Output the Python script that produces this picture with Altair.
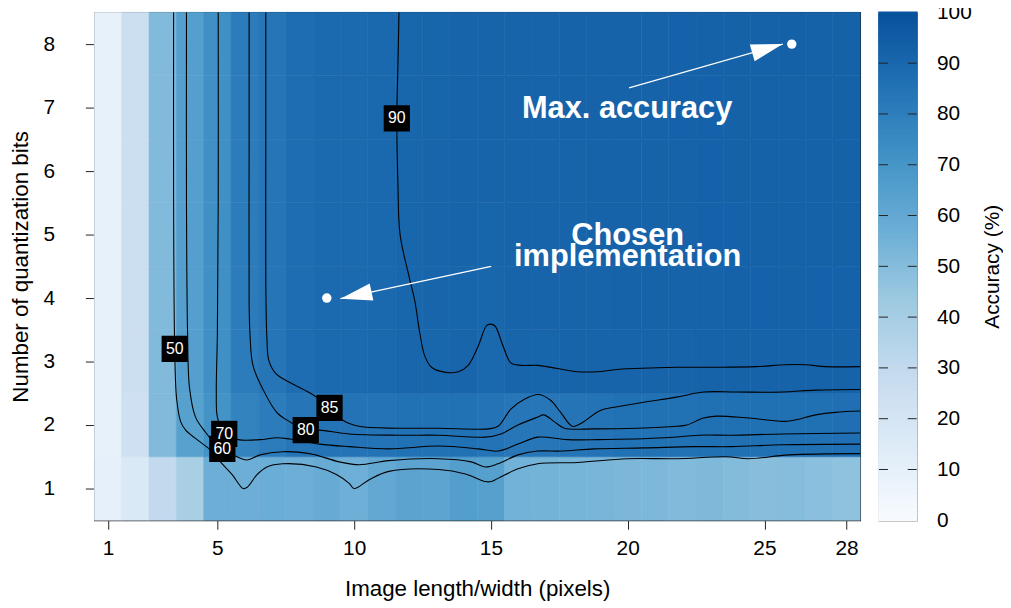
import altair as alt
import pandas as pd

FONT = "Liberation Sans"

# ---------------- heat-map values (accuracy %) ----------------
img_size = list(range(1, 29))          # image length/width (pixels)
q_bits = list(range(1, 9))             # number of quantization bits

acc_b1 = [9.5, 16.5, 30, 39, 57, 57, 57.5, 57, 58.5, 56.5, 60, 62.5, 62, 65.5, 64.5, 55,
          54.5, 54, 53.5, 52.5, 52, 51, 51.5, 50.5, 49, 49.5, 48.5, 47]
acc_b2 = [9, 24, 51, 64, 71, 78, 81, 84, 85, 85, 85, 85.5, 85.5, 85.5, 85, 83.5,
          83, 84.5, 85, 85.5, 85.5, 85.5, 86, 86, 86, 86, 86, 86.5]
acc_b3 = [9, 25, 51, 65, 72.5, 81, 84, 87.5, 89, 89.3, 89.6, 90.5, 90.8, 91.0, 89.9, 91.1,
          91.2, 91.3, 91.4, 91.5, 91.7, 91.7, 91.8, 91.9, 91.9, 92.0, 91.9, 91.9]
acc_b4 = [9, 25, 51, 65, 72.5, 81, 84, 87.5, 89, 89.3, 89.6, 90.6, 91, 91.2, 90.6, 91.4,
          91.5, 91.6, 91.7, 91.8, 92, 92, 92.1, 92.2, 92.2, 92.3, 92.2, 92.2]
acc_b5 = [9, 25, 51, 65, 72.5, 81, 84, 87.5, 89, 89.3, 89.7, 90.7, 91.1, 91.3, 91.2, 91.5,
          91.6, 91.7, 91.8, 91.9, 92, 92.1, 92.2, 92.2, 92.3, 92.4, 92.3, 92.3]
acc_b6 = [9, 25, 51, 65, 72.5, 81, 84, 87.5, 89, 89.3, 89.7, 90.7, 91.1, 91.3, 91.3, 91.5,
          91.6, 91.7, 91.8, 91.9, 92.1, 92.1, 92.2, 92.3, 92.3, 92.5, 92.3, 92.3]
acc_b7 = [9, 25, 51, 65, 72.5, 81, 84, 87.5, 89, 89.4, 89.7, 90.8, 91.2, 91.3, 91.3, 91.5,
          91.6, 91.8, 91.8, 92, 92.1, 92.2, 92.2, 92.3, 92.4, 92.6, 92.4, 92.3]
acc_b8 = [9, 25, 51, 65, 72.5, 81, 84, 87.5, 89, 89.4, 89.7, 90.8, 91.2, 91.4, 91.4, 91.6,
          91.7, 91.8, 91.9, 92, 92.1, 92.2, 92.3, 92.4, 92.5, 93, 92.4, 92.4]
acc_rows = [acc_b1, acc_b2, acc_b3, acc_b4, acc_b5, acc_b6, acc_b7, acc_b8]

# ---------------- contour lines (data units) ----------------
c50_x = [3.40, 3.40, 3.44, 3.51, 3.66, 3.84, 4.38, 4.74, 5.11, 5.54, 5.94, 6.09, 6.45, 6.81,
         7.39, 8.62, 9.35, 9.82, 10.00, 10.55, 11.27, 13.09, 14.07, 14.79, 15.01, 15.26, 15.99,
         16.71, 18.16, 19.98, 21.79, 23.60, 24.44, 25.89, 28.50]
c50_y = [8.5, 5.48, 3.20, 2.41, 2.05, 1.92, 1.73, 1.61, 1.42, 1.22, 1.0, 1.02, 1.22, 1.34,
         1.39, 1.34, 1.22, 1.08, 1.0, 1.14, 1.27, 1.30, 1.23, 1.11, 1.11, 1.16, 1.31,
         1.39, 1.41, 1.47, 1.47, 1.5, 1.47, 1.53, 1.55]
c60_x = [3.87, 3.87, 3.91, 3.98, 4.20, 4.56, 4.93, 5.18, 5.72, 6.09, 6.56, 7.39, 8.37, 9.46,
         10.18, 11.27, 13.09, 14.28, 14.79, 15.26, 15.99, 16.71, 17.55, 18.78, 20.59, 22.41,
         23.80, 25.67, 28.50]
c60_y = [8.5, 5.48, 3.45, 2.59, 2.125, 1.89, 1.70, 1.625, 1.5, 1.45, 1.53, 1.58, 1.55, 1.42,
         1.375, 1.44, 1.47, 1.42, 1.34, 1.39, 1.53, 1.59, 1.59, 1.625, 1.64, 1.66,
         1.66, 1.69, 1.70]
c70_x = [5.03, 5.03, 5.00, 4.96, 5.00, 5.25, 5.76, 6.56, 7.17, 7.65, 8.73, 9.82, 11.27, 13.09,
         14.54, 15.26, 15.99, 16.71, 17.80, 18.89, 21.37, 22.60, 23.80, 25.67, 28.50]
c70_y = [8.5, 5.48, 3.45, 2.52, 2.125, 1.86, 1.77, 1.77, 1.80, 1.78, 1.70, 1.66, 1.625, 1.67,
         1.625, 1.59, 1.70, 1.81, 1.77, 1.77, 1.80, 1.84, 1.84, 1.86, 1.875]
c80_x = [6.16, 6.16, 6.16, 6.19, 6.30, 6.67, 7.17, 7.65, 8.23, 8.73, 9.82, 11.64, 13.09, 14.79,
         15.37, 15.99, 16.71, 16.93, 17.33, 17.69, 18.78, 20.34, 21.79, 22.16, 22.77, 23.24,
         24.44, 25.84, 26.87, 27.59, 28.50]
c80_y = [8.5, 6.27, 3.92, 3.45, 2.94, 2.56, 2.20, 2.05, 1.92, 1.92, 1.86, 1.84, 1.84, 1.81,
         1.86, 2.0, 2.125, 2.16, 2.05, 1.95, 1.94, 1.95, 1.98, 2.0, 2.11, 2.14,
         2.11, 2.06, 2.16, 2.20, 2.22]
c85_x = [6.77, 6.77, 6.77, 6.81, 6.88, 7.14, 7.65, 8.19, 8.62, 9.10, 9.57, 10.18, 11.64, 13.09,
         14.90, 15.26, 15.73, 16.24, 16.75, 17.18, 17.55, 17.98, 18.27, 19.00, 19.51, 20.59,
         21.79, 22.77, 23.97, 25.67, 26.87, 28.50]
c85_y = [8.5, 6.27, 4.23, 3.375, 3.02, 2.81, 2.67, 2.55, 2.44, 2.27, 2.08, 1.98, 1.95, 1.95,
         1.94, 1.98, 2.25, 2.41, 2.48, 2.39, 2.20, 1.98, 2.02, 2.23, 2.28, 2.36,
         2.44, 2.52, 2.52, 2.52, 2.55, 2.56]
c90_x = [11.64, 11.60, 11.56, 11.60, 11.68, 12.03, 12.22, 12.40, 12.58, 12.83, 13.34,
         13.81, 14.17, 14.54, 14.83, 14.97, 15.15, 15.44, 15.73, 16.10, 16.71, 17.44, 18.16,
         18.89, 19.61, 21.79, 23.24, 24.69, 25.78, 26.51, 27.23, 28.50]
c90_y = [8.5, 7.67, 6.83, 5.80, 5.00, 4.30, 3.95, 3.45, 3.09, 2.91, 2.83, 2.84, 2.94,
         3.25, 3.56, 3.59, 3.56, 3.25, 2.98, 2.94, 2.94, 2.89, 2.84, 2.84, 2.875, 2.91,
         2.91, 2.92, 2.95, 2.95, 2.92, 2.92]

# contour labels
lab_text = ["90", "50", "85", "80", "70", "60"]
lab_x = [11.56, 3.44, 9.10, 8.23, 5.25, 5.18]
lab_y = [6.83, 3.20, 2.27, 1.92, 1.86, 1.625]

# annotations
ann_text = ["Max. accuracy", "Chosen", "implementation"]
ann_x = [19.98, 20.0, 20.0]
ann_y = [6.98, 4.98, 4.64]
dot_x = [26, 9]
dot_y = [8, 4]
arrow_x0 = [20.05, 15.01]
arrow_y0 = [7.31, 4.50]
arrow_x1 = [25.67, 9.50]
arrow_y1 = [8.00, 3.99]
arrow_angle = [344.1, 167.9]

# colour bar
cb_ticks = [10, 20, 30, 40, 50, 60, 70, 80, 90]
cb_labels = [0, 10, 20, 30, 40, 50, 60, 70, 80, 90, 100]

x_ticks = [1, 5, 10, 15, 20, 25, 28]
X_TITLE = "Image length/width (pixels)"
Y_TITLE = "Number of quantization bits"

# ---------------- tables ----------------
cells = pd.DataFrame(
    [{"px": s, "bits": b, "acc": v} for b, row in zip(q_bits, acc_rows) for s, v in zip(img_size, row)]
)
cont_rows = []
for lev, (cx, cy) in {"50": (c50_x, c50_y), "60": (c60_x, c60_y), "70": (c70_x, c70_y),
                      "80": (c80_x, c80_y), "85": (c85_x, c85_y), "90": (c90_x, c90_y)}.items():
    for i, (a, b) in enumerate(zip(cx, cy)):
        cont_rows.append({"level": lev, "i": i, "cx": a, "cy": b})
cont = pd.DataFrame(cont_rows)
labels = pd.DataFrame({"t": lab_text, "lx": lab_x, "ly": lab_y})
ann = pd.DataFrame({"t": ann_text, "ax": ann_x, "ay": ann_y})
dots = pd.DataFrame({"dx": dot_x, "dy": dot_y})
arr_rows = []
for k in range(2):
    arr_rows.append({"a": k, "i": 0, "ax": arrow_x0[k], "ay": arrow_y0[k]})
    arr_rows.append({"a": k, "i": 1, "ax": arrow_x1[k], "ay": arrow_y1[k]})
arrows = pd.DataFrame(arr_rows)
heads = pd.DataFrame({"hx": arrow_x1, "hy": arrow_y1, "ang": arrow_angle})

# ---------------- scales ----------------
csc = alt.Scale(domain=[0, 14.29, 28.57, 42.86, 57.14, 71.43, 85.71, 100],
                range=["#F7FBFF", "#DEEBF7", "#C6DBEF", "#9ECAE1", "#6BAED6", "#4292C6", "#2171B5", "#08519C"],
                interpolate="rgb")
xsc = alt.Scale(domain=[0.5, 28.5], nice=False, zero=False)
ysc = alt.Scale(domain=[0.5, 8.5], nice=False, zero=False)

x_axis = alt.Axis(values=x_ticks, title=X_TITLE, tickSize=9, labelPadding=8, titlePadding=20,
                  labelFontSize=21, titleFontSize=22.5)
y_axis = alt.Axis(values=q_bits, title=Y_TITLE, tickSize=9, labelPadding=31, titlePadding=11,
                  labelFontSize=21, titleFontSize=22.5)


def X(f):
    return alt.X(f, scale=xsc, axis=x_axis)


def Y(f):
    return alt.Y(f, scale=ysc, axis=y_axis)


heat = alt.Chart(cells).transform_calculate(
    x0="datum.px - 0.5", x1="datum.px + 0.5", y0="datum.bits - 0.5", y1="datum.bits + 0.5"
).mark_rect(strokeWidth=0.6).encode(
    x=X("x0:Q"), x2="x1:Q", y=Y("y0:Q"), y2="y1:Q",
    color=alt.Color("acc:Q", scale=csc, legend=None),
    stroke=alt.Stroke("acc:Q", scale=csc, legend=None),
)

lines = alt.Chart(cont).mark_line(color="black", strokeWidth=1.1, interpolate="catmull-rom", clip=True).encode(
    x=X("cx:Q"), y=Y("cy:Q"), detail="level:N", order="i:Q"
)

boxes = alt.Chart(labels).mark_point(shape="square", filled=True, color="black", opacity=1, size=700).encode(
    x=X("lx:Q"), y=Y("ly:Q")
)
box_txt = alt.Chart(labels).mark_text(color="white", fontSize=16, font=FONT, baseline="middle").encode(
    x=X("lx:Q"), y=Y("ly:Q"), text="t:N"
)

arrow_lines = alt.Chart(arrows).mark_line(color="white", strokeWidth=1.3).encode(
    x=X("ax:Q"), y=Y("ay:Q"), detail="a:N", order="i:Q"
)
arrow_heads = alt.Chart(heads).mark_point(
    shape="M0,0L-2,-0.55L-2,0.55Z", filled=True, color="white", opacity=1, size=1024
).encode(x=X("hx:Q"), y=Y("hy:Q"), angle=alt.Angle("ang:Q", scale=None))

dot_marks = alt.Chart(dots).mark_circle(color="white", opacity=1, size=90).encode(x=X("dx:Q"), y=Y("dy:Q"))

ann_marks = alt.Chart(ann).mark_text(color="white", fontSize=31, fontWeight="bold", font=FONT,
                                     baseline="middle").encode(x=X("ax:Q"), y=Y("ay:Q"), text="t:N")

main = alt.layer(heat, lines, boxes, box_txt, arrow_lines, arrow_heads, dot_marks, ann_marks).properties(
    width=772, height=512
)

# ---------------- colour bar ----------------
cbsc = alt.Scale(domain=[0, 100], nice=False, zero=False)
cb_axis = alt.Axis(orient="right", values=cb_labels, ticks=False, labelPadding=20, title="Accuracy (%)",
                   titleAngle=270, titlePadding=31, labelFontSize=21, titleFontSize=21)
cb_rect = alt.Chart(alt.sequence(0, 100, 0.5, as_="v")).transform_calculate(v2="datum.v + 0.5").mark_rect(
    strokeWidth=1.5
).encode(
    x=alt.value(0), x2=alt.value(38),
    y=alt.Y("v:Q", scale=cbsc, axis=cb_axis), y2="v2:Q",
    color=alt.Color("v:Q", scale=csc, legend=None),
    stroke=alt.Stroke("v:Q", scale=csc, legend=None),
)
tick_df = pd.DataFrame({"t": cb_ticks})
cb_tl = alt.Chart(tick_df).mark_rule(color="#222", strokeWidth=1).encode(
    y=alt.Y("t:Q", scale=cbsc, axis=cb_axis), x=alt.value(0), x2=alt.value(9)
)
cb_tr = alt.Chart(tick_df).mark_rule(color="#222", strokeWidth=1).encode(
    y=alt.Y("t:Q", scale=cbsc, axis=cb_axis), x=alt.value(29), x2=alt.value(38)
)
cbar = alt.layer(cb_rect, cb_tl, cb_tr).properties(width=38, height=512)

chart = alt.hconcat(main, cbar, spacing=19).properties(
    padding={"left": 0, "top": -10, "right": 0, "bottom": 0}, bounds="flush"
).configure_view(stroke="#222", strokeWidth=1.2).configure_axis(
    labelFont=FONT, titleFont=FONT, labelColor="black", titleColor="black", tickColor="#222",
    domain=False, grid=False, titleFontWeight="normal"
)

chart.save("out.html", embed_options={"renderer": "svg", "actions": False})
